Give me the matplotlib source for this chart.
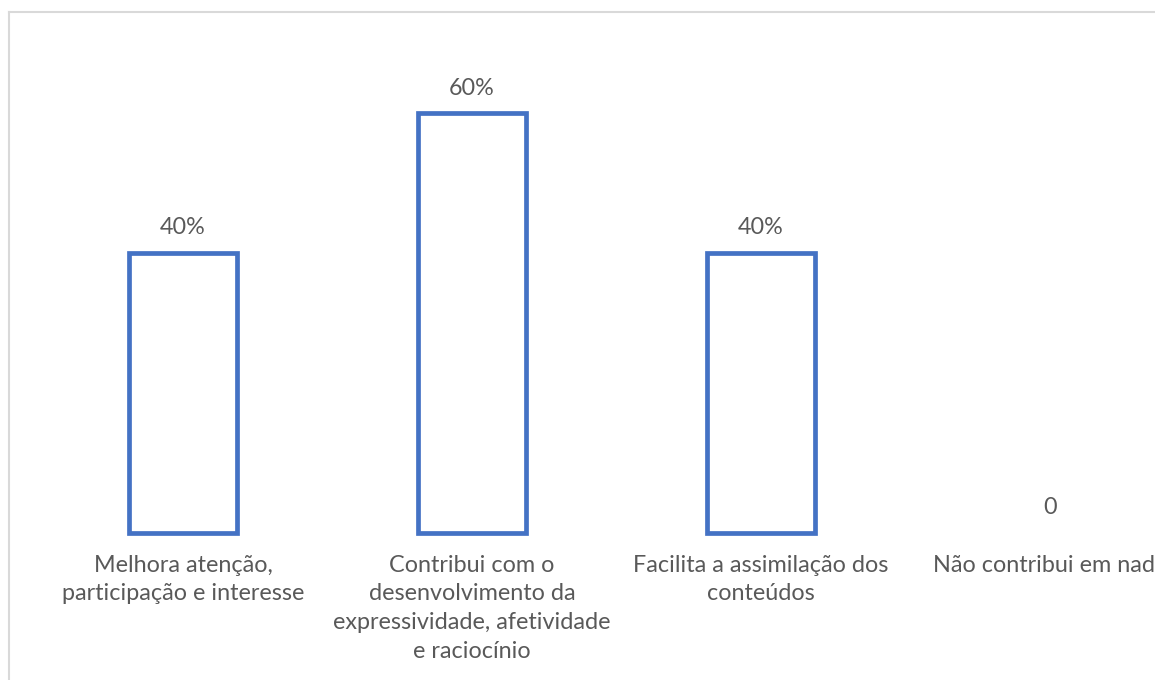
import matplotlib.pyplot as plt
from matplotlib.lines import Line2D

plt.rcParams['font.family'] = ['Lato', 'DejaVu Sans']

categorias = ['Melhora atenção,\nparticipação e interesse',
              'Contribui com o\ndesenvolvimento da\nexpressividade, afetividade\ne raciocínio',
              'Facilita a assimilação dos\nconteúdos',
              'Não contribui em nada']
valores = [40, 60, 40, 0]
rotulos = ['40%', '60%', '40%', '0']

W, H = 1155, 680
fig = plt.figure(figsize=(W / 100, H / 100), dpi=100)

# moldura cinza do gráfico (cortada à direita e embaixo)
fig.add_artist(Line2D([9 / W, 1.0], [1 - 12 / H, 1 - 12 / H], color='#d9d9d9', lw=1.5))
fig.add_artist(Line2D([9 / W, 9 / W], [0, 1 - 12 / H], color='#d9d9d9', lw=1.5))

passo = 289  # px por categoria
esq = 183 - 0.5 * passo
base = H - 532.5
ax = fig.add_axes([esq / W, base / H, 4 * passo / W, 70 * 6.99 / H])
ax.set_xlim(-0.5, 3.5)
ax.set_ylim(0, 70)

x = range(len(valores))
barras = ax.bar(x, valores, width=0.377, facecolor='white', edgecolor='#4472C4',
                linewidth=3.4, clip_on=False)
for b, v in zip(barras, valores):
    if v == 0:
        b.set_visible(False)

for xi, v, r in zip(x, valores, rotulos):
    ax.annotate(r, (xi, v), xytext=(0, 18), textcoords='offset points',
                ha='center', va='center', fontsize=16.8, color='#595959')

ax.set_xticks(list(x))
ax.set_xticklabels(categorias, fontsize=16.8, color='#595959', linespacing=1.45)
ax.tick_params(axis='x', length=0, pad=16)
ax.set_yticks([])
for s in ax.spines.values():
    s.set_visible(False)

fig.savefig('out.png', dpi=100)
